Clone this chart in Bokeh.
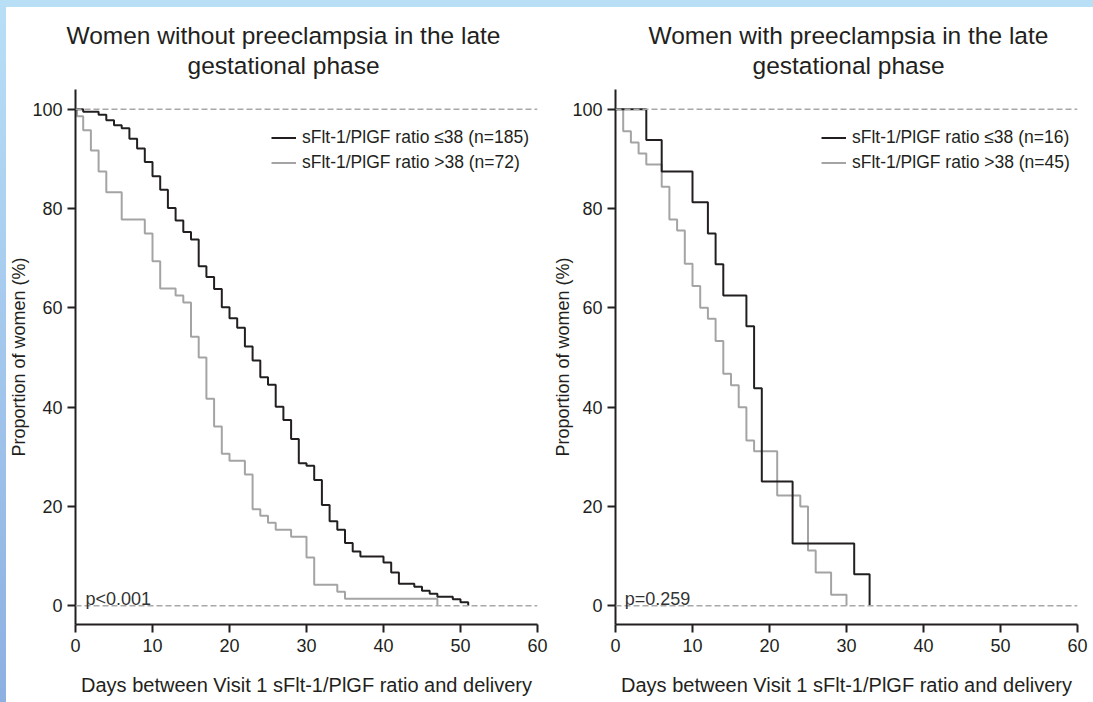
from bokeh.plotting import figure
from bokeh.models import Range1d, Span, Label, Legend, LegendItem, FixedTicker, Row, Column, Spacer, Title
from bokeh.embed import file_html
from bokeh.resources import INLINE

# ---------------- data ----------------
x_ticks = [0, 10, 20, 30, 40, 50, 60]
y_ticks = [0, 20, 40, 60, 80, 100]

title_left = ["Women without preeclampsia in the late", "gestational phase"]
title_right = ["Women with preeclampsia in the late", "gestational phase"]
x_label = "Days between Visit 1 sFlt-1/PlGF ratio and delivery"
y_label = "Proportion of women (%)"
legend_left = ["sFlt-1/PlGF ratio \u226438 (n=185)", "sFlt-1/PlGF ratio >38 (n=72)"]
legend_right = ["sFlt-1/PlGF ratio \u226438 (n=16)", "sFlt-1/PlGF ratio >38 (n=45)"]
p_left = "p<0.001"
p_right = "p=0.259"

left_le38_days = [0, 1, 3, 4, 5, 6, 7, 8, 9, 10, 11, 12, 13, 14, 15, 16, 17, 18, 19, 20,
                  21, 22, 23, 24, 25, 26, 27, 28, 29, 30, 31, 32, 33, 34, 35, 36, 37,
                  40, 41, 42, 44, 45, 46, 47, 49, 50, 51]
left_le38_pct = [100, 99.5, 98.9, 97.8, 96.8, 96.2, 94.1, 92.1, 89.4, 86.5,
                 83.8, 80.1, 77.6, 75.3, 73.8, 68.4, 66.2, 63.8, 60.1, 57.9,
                 56.0, 52.2, 49.4, 46.0, 44.5, 40.1, 37.4, 33.6, 28.7, 28.2,
                 25.3, 20.3, 17.0, 15.3, 12.6, 10.9, 9.9,
                 8.7, 6.7, 4.4, 3.8, 3.0, 2.4, 1.8, 1.3, 0.7, 0]

left_gt38_days = [0, 0.2, 1, 2, 3, 4, 6, 9, 10, 11, 13, 14, 15, 16, 17, 18, 19, 20,
                  22, 23, 24, 25, 26, 28, 30, 31, 34, 35, 47]
left_gt38_pct = [100, 98.6, 95.8, 91.7, 87.5, 83.3, 77.8, 75.0, 69.4, 63.9, 62.5, 61.1,
                 54.2, 50.0, 41.7, 36.1, 30.6, 29.2, 26.4, 19.4, 18.1, 16.7, 15.3,
                 13.9, 9.7, 4.2, 2.8, 1.4, 0]

right_le38_days = [0, 4, 6, 10, 12, 13, 14, 17, 18, 19, 23, 31, 33]
right_le38_pct = [100, 93.8, 87.5, 81.3, 75.0, 68.8, 62.5, 56.3, 43.8, 25.0, 12.5, 6.3, 0]

right_gt38_days = [0, 1, 2, 3, 4, 6, 7, 8, 9, 10, 11, 12, 13, 14, 15, 16, 17, 18,
                   21, 24, 25, 26, 28, 30]
right_gt38_pct = [100, 95.6, 93.3, 91.1, 88.9, 84.4, 77.8, 75.6, 68.9, 64.4, 60.0, 57.8,
                  53.3, 46.7, 44.4, 40.0, 33.3, 31.1, 22.2, 20.0, 11.1, 6.7, 2.2, 0]

# ---------------- style ----------------
FONT = "Liberation Sans"
DARK = "#231f20"
GRAY = "#a4a4a4"
DASH = "#a8a8a8"


def make_panel(titles, title_offsets, days_le, pct_le, days_gt, pct_gt, legend_labels,
               pval, pval_x, width, border_left, border_right, ylabel_standoff, legend_x):
    p = figure(width=width, height=695, x_range=Range1d(0, 60), y_range=Range1d(-3.8, 104.0),
               output_backend="svg", toolbar_location=None,
               min_border_left=border_left, min_border_right=border_right,
               min_border_top=82, min_border_bottom=78,
               background_fill_color="white", border_fill_color="white",
               outline_line_color=None)
    p.grid.visible = False

    for loc in (100, 0):
        p.add_layout(Span(location=loc, dimension="width", line_color=DASH,
                          line_width=1.5, line_dash="6 3"))

    r_gt = p.step(days_gt, pct_gt, mode="after", line_color=GRAY, line_width=2)
    r_le = p.step(days_le, pct_le, mode="after", line_color=DARK, line_width=2)

    p.xaxis.ticker = FixedTicker(ticks=x_ticks)
    p.yaxis.ticker = FixedTicker(ticks=y_ticks)
    for ax in (p.xaxis, p.yaxis):
        ax.axis_line_color = DARK
        ax.axis_line_width = 2
        ax.major_tick_line_color = DARK
        ax.major_tick_line_width = 2
        ax.major_tick_out = 8
        ax.major_tick_in = 0
        ax.minor_tick_out = 0
        ax.minor_tick_in = 0
        ax.major_label_text_font = FONT
        ax.major_label_text_font_size = "18px"
        ax.major_label_text_color = DARK
        ax.axis_label_text_font = FONT
        ax.axis_label_text_font_style = "normal"
        ax.axis_label_text_color = DARK
    p.xaxis.major_label_standoff = 6
    p.yaxis.major_label_standoff = 5
    p.xaxis.axis_label = x_label
    p.xaxis.axis_label_text_font_size = "20px"
    p.xaxis.axis_label_standoff = 19
    p.yaxis.axis_label = y_label
    p.yaxis.axis_label_text_font_size = "18px"
    p.yaxis.axis_label_standoff = ylabel_standoff

    # titles: the line added first sits closest to the frame
    p.add_layout(Title(text=titles[1], align="left", offset=title_offsets[1], standoff=22,
                       text_font=FONT, text_font_size="24.5px", text_font_style="normal",
                       text_color=DARK), "above")
    p.add_layout(Title(text=titles[0], align="left", offset=title_offsets[0], standoff=-20,
                       text_font=FONT, text_font_size="24.5px", text_font_style="normal",
                       text_color=DARK), "above")

    p.add_layout(Label(x=pval_x, y=1.4, text=pval, text_align="left",
                       text_baseline="alphabetic", text_font=FONT,
                       text_font_size="18px", text_color="#333333"))

    legend = Legend(items=[LegendItem(label=legend_labels[0], renderers=[r_le]),
                           LegendItem(label=legend_labels[1], renderers=[r_gt])],
                    location=(legend_x, 451), padding=0, margin=0, spacing=4,
                    glyph_width=25, glyph_height=21, label_height=21, label_standoff=6,
                    label_text_font=FONT, label_text_font_size="17.5px",
                    label_text_color=DARK, border_line_color=None,
                    background_fill_alpha=0)
    p.add_layout(legend)
    return p


p1 = make_panel(title_left, (-9, 112), left_le38_days, left_le38_pct, left_gt38_days, left_gt38_pct,
                legend_left, p_left, 1.3, 544, 69, 13, 0, 196)
p2 = make_panel(title_right, (33, 137), right_le38_days, right_le38_pct, right_gt38_days, right_gt38_pct,
                legend_right, p_right, 1.2, 543, 65, 16, -4, 206)

frame_bg = ("linear-gradient(to bottom, #b9dff7, #8db0e2) 0 0 / 6px 100% no-repeat, "
            "linear-gradient(#b9dff7, #b9dff7) 0 0 / 100% 7px no-repeat, #ffffff")

layout = Column(children=[Spacer(width=1093, height=7),
                          Row(children=[Spacer(width=6, height=695), p1, p2])],
                styles={"background": frame_bg})

open("out.html", "w").write(file_html(layout, INLINE))
